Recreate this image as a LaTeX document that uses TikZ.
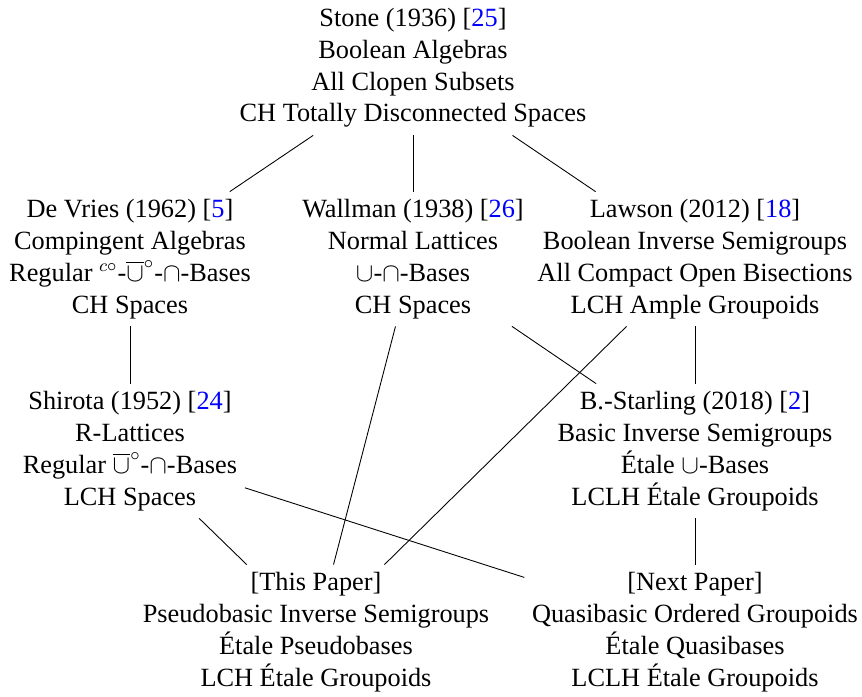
\documentclass[tikz,border=0pt]{standalone}
\usepackage{amsmath}
\usepackage{amssymb}
\usepackage{xcolor}
\usepackage{fontspec}
\setmainfont{Liberation Serif}
\usepackage{tikz}
\usetikzlibrary{positioning}

\newcommand{\refnum}[1]{[\textcolor{blue}{#1}]}

\begin{document}
\begin{tikzpicture}[
    x=0.456pt,y=-0.456pt,
    paper/.style={align=center,font=\fontsize{12}{14.5}\selectfont},
    every edge/.style={draw,line width=0.4pt}
]
    \useasboundingbox (0,0) rectangle (862,696);

    % Papers
    \node[paper] (STONE) at (413,68) {Stone (1936) \refnum{25}\\Boolean Algebras\\All Clopen Subsets\\CH Totally Disconnected Spaces};
    \node[paper] (DEVRIES) at (130,259) {De Vries (1962) \refnum{5}\\Compingent Algebras\\Regular $^{c\circ}$-$\overline{\cup}^{\circ}$-$\cap$-Bases\\CH Spaces};
    \node[paper] (WALLMAN) at (413,259) {Wallman (1938) \refnum{26}\\Normal Lattices\\$\cup$-$\cap$-Bases\\CH Spaces};
    \node[paper] (LAWSON) at (695,259) {Lawson (2012) \refnum{18}\\Boolean Inverse Semigroups\\All Compact Open Bisections\\LCH Ample Groupoids};
    \node[paper] (SHIROTA) at (130,451) {Shirota (1952) \refnum{24}\\R-Lattices\\Regular $\overline{\cup}^{\circ}$-$\cap$-Bases\\LCH Spaces};
    \node[paper] (STARLING) at (695,451) {B.-Starling (2018) \refnum{2}\\Basic Inverse Semigroups\\Étale $\cup$-Bases\\LCLH Étale Groupoids};
    \node[paper] (THIS) at (316,632) {[This Paper]\\Pseudobasic Inverse Semigroups\\Étale Pseudobases\\LCH Étale Groupoids};
    \node[paper] (NEXT) at (695,632) {[Next Paper]\\Quasibasic Ordered Groupoids\\Étale Quasibases\\LCLH Étale Groupoids};

    % Links
    \path (STONE) edge (DEVRIES);
    \path (STONE) edge (WALLMAN);
    \path (STONE) edge (LAWSON);
    \path (DEVRIES) edge (SHIROTA);
    \path (LAWSON) edge (STARLING);
    \path (WALLMAN) edge (THIS);
    \path (WALLMAN) edge (STARLING);
    \path (LAWSON) edge (THIS);
    \path (SHIROTA) edge (THIS);
    \path (SHIROTA) edge (NEXT);
    \path (STARLING) edge (NEXT);
\end{tikzpicture}
\end{document}
